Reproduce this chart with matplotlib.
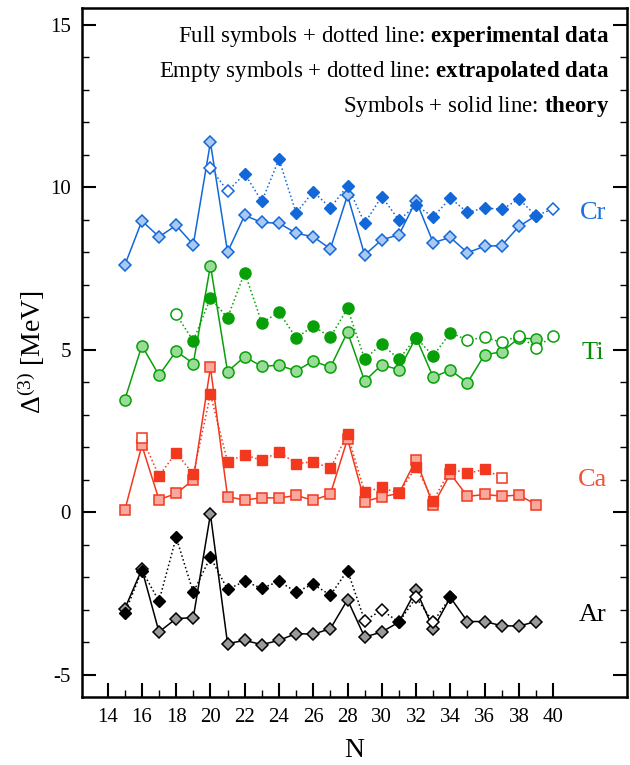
import matplotlib
matplotlib.use("Agg")
import matplotlib.pyplot as plt
import numpy as np

# theory (solid line), N = 15..39
N_th = list(range(15, 40))
cr_th = [7.60, 8.97, 8.48, 8.83, 8.24, 11.39, 8.01, 9.14, 8.92, 8.90, 8.59, 8.48, 8.11,
         9.76, 7.92, 8.39, 8.54, 9.59, 8.30, 8.46, 7.99, 8.19, 8.21, 8.80, 9.13]
ti_th = [3.46, 5.13, 4.22, 4.96, 4.58, 7.59, 4.33, 4.79, 4.49, 4.53, 4.35, 4.66, 4.46,
         5.55, 4.04, 4.54, 4.39, 5.38, 4.16, 4.38, 3.99, 4.85, 4.94, 5.36, 5.34]
ca_th = [0.06, 2.06, 0.39, 0.58, 1.00, 4.46, 0.48, 0.38, 0.45, 0.44, 0.52, 0.37, 0.56,
         2.26, 0.33, 0.48, 0.58, 1.62, 0.22, 1.19, 0.49, 0.55, 0.50, 0.53, 0.24]
ar_th = [-2.97, -1.75, -3.68, -3.27, -3.24, -0.06, -4.04, -3.94, -4.07, -3.94, -3.73, -3.75, -3.58,
         -2.69, -3.84, -3.68, -3.38, -2.39, -3.58, -2.62, -3.36, -3.36, -3.49, -3.50, -3.36]

# experimental / extrapolated (dotted line); flag 1 = measured, 0 = extrapolated
cr_N = list(range(20, 41))
cr_ex = [10.61, 9.88, 10.42, 9.57, 10.87, 9.21, 9.87, 9.37, 10.05, 8.90, 9.72,
         8.99, 9.45, 9.09, 9.67, 9.23, 9.37, 9.32, 9.64, 9.13, 9.34]
cr_meas = [0, 0] + [1] * 18 + [0]

ti_N = list(range(18, 41))
ti_ex = [6.09, 5.28, 6.59, 5.99, 7.38, 5.83, 6.16, 5.37, 5.73, 5.39, 6.28, 4.72,
         5.18, 4.71, 5.38, 4.81, 5.53, 5.30, 5.39, 5.23, 5.44, 5.06, 5.44]
ti_meas = [0] + [1] * 16 + [0] * 6

ca_N = list(range(16, 38))
ca_ex = [2.30, 1.12, 1.84, 1.17, 3.63, 1.56, 1.77, 1.60, 1.86, 1.50, 1.56, 1.35,
         2.40, 0.62, 0.77, 0.58, 1.41, 0.35, 1.34, 1.20, 1.32, 1.07]
ca_meas = [0] + [1] * 20 + [0]

ar_N = list(range(15, 35))
ar_ex = [-3.11, -1.79, -2.73, -0.77, -2.46, -1.38, -2.37, -2.12, -2.34, -2.12, -2.45,
         -2.21, -2.55, -1.79, -3.33, -3.01, -3.38, -2.62, -3.37, -2.62]
ar_meas = [1] * 14 + [0, 0, 1, 0, 0, 1]

plt.rcParams['font.family'] = ['Liberation Serif', 'DejaVu Serif']
plt.rcParams['mathtext.fontset'] = 'custom'
plt.rcParams['mathtext.rm'] = 'Liberation Serif'
plt.rcParams['mathtext.it'] = 'Liberation Serif:italic'
plt.rcParams['mathtext.bf'] = 'Liberation Serif:bold'
plt.rcParams['axes.unicode_minus'] = False

fig = plt.figure(figsize=(6.3, 7.65), dpi=100)
ax = fig.add_axes([0.130, 0.089, 0.865, 0.9005])

series = [
    # name, theory, N_exp, exp, meas, marker, ms, dark, light, label colour, label y
    ("Cr", cr_th, cr_N, cr_ex, cr_meas, "D", 6.5, "#1268d8", "#a9c9f2", "#1a6fdf", 9.2),
    ("Ti", ti_th, ti_N, ti_ex, ti_meas, "o", 8, "#08a008", "#98dc98", "#0a8a0a", 4.9),
    ("Ca", ca_th, ca_N, ca_ex, ca_meas, "s", 7, "#f2381e", "#f8a89c", "#f2533a", 1.0),
    ("Ar", ar_th, ar_N, ar_ex, ar_meas, "D", 6.5, "#000000", "#9a9a9a", "#000000", -3.15),
]

for name, th, nx, ex, meas, mk, ms, dark, light, lc, ly in series:
    ax.plot(N_th, th, '-', color=dark, lw=1.1, marker=mk, ms=ms,
            mfc=light, mec=dark, mew=1.1, zorder=3)
    ax.plot(nx, ex, ':', color=dark, lw=1.1, zorder=2)
    nx = np.array(nx)
    ex = np.array(ex)
    m = np.array(meas) == 1
    ax.plot(nx[m], ex[m], ls='none', marker=mk, ms=ms, mfc=dark, mec=dark, zorder=4)
    ax.plot(nx[~m], ex[~m], ls='none', marker=mk, ms=ms, mfc='white', mec=dark,
            mew=1.1, zorder=4)
    ax.text(42.3, ly, name, color=lc, fontsize=19, ha='center', va='center')

ax.text(43.3, 14.65, r"Full symbols + dotted line: $\mathbf{experimental\ data}$",
        ha='right', va='center', fontsize=16.5)
ax.text(43.3, 13.57, r"Empty symbols + dotted line: $\mathbf{extrapolated\ data}$",
        ha='right', va='center', fontsize=16.5)
ax.text(43.3, 12.5, r"Symbols + solid line: $\mathbf{theory}$",
        ha='right', va='center', fontsize=16.5)

ax.set_xlim(12.5, 44.3)
ax.set_ylim(-5.68, 15.52)
ax.set_xticks(range(14, 41, 2))
ax.set_xticks(range(15, 40, 2), minor=True)
ax.set_yticks([-5, 0, 5, 10, 15])
ax.set_yticks([v for v in range(-5, 16) if v % 5 != 0], minor=True)
ax.tick_params(which='both', direction='in', right=True, top=False, labelsize=15)
ax.tick_params(which='major', length=10, width=1.5, pad=8)
ax.tick_params(which='minor', length=5, width=1.0)
for sp in ax.spines.values():
    sp.set_linewidth(1.8)

ax.set_xlabel("N", fontsize=20, labelpad=8)
ax.set_ylabel(r"$\Delta^{(3)}$ [MeV]", fontsize=20, labelpad=2)

fig.savefig("out.png", dpi=100)
